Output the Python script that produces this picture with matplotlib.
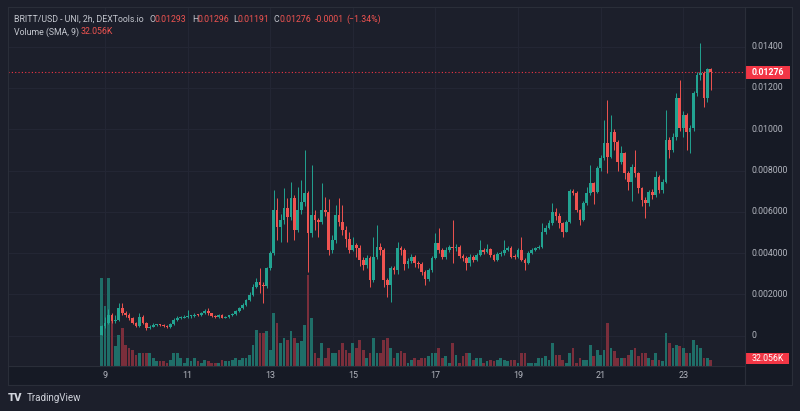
import matplotlib.pyplot as plt
from matplotlib.lines import Line2D
from matplotlib.patches import Rectangle

# 2h candles, prices in thousandths of USD (0.01276 -> 12.76)
first_open = 0.05
closes = [
    0.45, 0.62, 1.0, 0.7, 0.78, 1.33, 1.08, 1.02, 0.84, 0.62,
    0.46, 0.92, 0.6, 0.38, 0.42, 0.5, 0.52, 0.5, 0.48, 0.4,
    0.56, 0.78, 0.86, 0.88, 0.92, 0.94, 0.94, 1.02, 1.0, 1.1,
    1.2, 1.08, 0.95, 0.9, 1.0, 0.88, 0.9, 0.98, 1.06, 1.2,
    1.35, 1.5, 1.75, 1.97, 2.37, 2.62, 2.45, 2.40, 3.26, 3.99,
    6.09, 5.28, 5.6, 6.17, 5.76, 6.65, 5.12, 6.09, 6.49, 6.89,
    4.96, 5.84, 5.6, 5.52, 6.09, 6.0, 4.15, 4.63, 5.84, 5.52,
    5.1, 4.7, 4.15, 4.39, 4.25, 3.67, 3.43, 3.75, 2.7, 3.8,
    4.31, 4.15, 2.70, 2.45, 3.26, 3.2, 4.23, 4.15, 3.45, 3.6,
    3.8, 3.5, 3.45, 3.1, 2.75, 3.18, 3.75, 4.48, 4.15, 3.83,
    4.15, 4.31, 4.23, 4.31, 3.87, 3.75, 3.51, 3.83, 3.67, 3.9,
    4.15, 4.05, 4.2, 3.9, 3.67, 3.95, 3.99, 4.15, 4.27, 3.83,
    3.8, 4.15, 3.67, 3.5, 3.99, 4.15, 4.25, 4.31, 5.04, 5.2,
    5.44, 6.0, 5.8, 5.44, 5.04, 5.52, 7.02, 6.93, 6.09, 5.6,
    6.41, 6.89, 7.38, 6.97, 8.1, 8.59, 9.32, 8.67, 9.88, 9.4,
    8.43, 8.83, 7.86, 7.46, 8.19, 7.86, 7.14, 6.57, 6.41, 6.97,
    6.81, 7.7, 7.06, 7.46, 9.48, 9.0, 9.64, 11.5, 10.05, 10.69,
    9.88, 10.05, 11.74, 12.62, 12.71, 11.5, 12.93, 12.76,
]
highs = [
    0.5, 0.9, 1.3, 1.1, 1.0, 1.6, 1.6, 1.2, 1.1, 0.9,
    0.68, 1.1, 0.98, 0.65, 0.5, 0.6, 0.58, 0.56, 0.55, 0.52,
    0.6, 0.85, 0.95, 0.96, 1.0, 1.25, 1.0, 1.08, 1.06, 1.15,
    1.28, 1.35, 1.12, 1.0, 1.05, 1.04, 0.96, 1.02, 1.1, 1.25,
    1.4, 1.6, 1.8, 2.1, 2.5, 2.78, 3.3, 2.6, 3.35, 4.1,
    7.06, 6.65, 5.9, 7.14, 6.65, 7.46, 6.8, 7.22, 7.54, 8.99,
    7.0, 8.27, 6.1, 5.7, 7.38, 6.73, 6.6, 4.88, 6.33, 6.65,
    6.33, 5.3, 5.0, 4.79, 4.5, 4.4, 3.8, 3.9, 3.85, 4.79,
    5.36, 4.5, 4.25, 2.8, 3.4, 3.4, 4.55, 4.35, 4.25, 3.75,
    3.95, 3.9, 3.6, 3.55, 3.2, 3.3, 3.85, 4.96, 5.2, 4.25,
    4.3, 4.4, 5.6, 4.45, 4.4, 3.95, 3.85, 3.95, 3.9, 4.0,
    4.64, 4.25, 4.45, 4.25, 3.95, 4.05, 4.1, 4.64, 4.35, 4.35,
    3.95, 4.25, 4.8, 3.75, 4.1, 4.25, 4.3, 4.4, 5.44, 5.35,
    5.6, 6.41, 6.2, 5.92, 5.5, 5.6, 7.1, 7.1, 7.0, 6.15,
    6.5, 7.22, 8.27, 7.45, 8.2, 8.75, 10.45, 11.41, 10.69, 10.0,
    9.5, 9.2, 8.9, 8.0, 8.3, 9.0, 7.95, 7.2, 6.7, 7.05,
    7.1, 8.0, 7.8, 7.6, 10.93, 9.6, 9.8, 11.74, 12.38, 10.9,
    10.8, 10.2, 11.85, 12.75, 14.16, 12.8, 12.98, 12.96,
]
lows = [
    0.02, 0.35, 0.55, 0.6, 0.62, 0.72, 1.0, 0.9, 0.78, 0.55,
    0.4, 0.42, 0.55, 0.3, 0.33, 0.4, 0.46, 0.45, 0.44, 0.36,
    0.38, 0.52, 0.72, 0.8, 0.84, 0.88, 0.88, 0.9, 0.94, 0.96,
    1.05, 1.02, 0.9, 0.85, 0.86, 0.84, 0.84, 0.86, 0.94, 1.02,
    1.15, 1.3, 1.45, 1.7, 1.9, 2.3, 2.05, 1.57, 2.3, 3.2,
    3.9, 4.63, 4.55, 5.4, 4.55, 5.6, 4.63, 5.0, 5.9, 6.3,
    3.1, 4.8, 5.1, 4.79, 5.4, 5.8, 3.91, 3.99, 4.5, 5.3,
    4.9, 4.3, 4.0, 4.1, 3.8, 3.4, 3.2, 3.3, 2.37, 2.6,
    3.7, 3.9, 2.37, 1.89, 1.65, 3.0, 3.0, 3.9, 3.2, 3.3,
    3.5, 3.35, 3.3, 2.95, 2.46, 2.65, 3.1, 3.7, 4.0, 3.7,
    3.7, 4.05, 3.51, 4.1, 3.75, 3.6, 3.18, 3.4, 3.55, 3.6,
    3.85, 3.95, 4.0, 3.8, 3.6, 3.6, 3.85, 3.9, 4.1, 3.75,
    3.7, 3.75, 3.6, 3.18, 3.45, 3.95, 4.1, 4.2, 4.25, 4.95,
    5.15, 5.35, 5.6, 5.2, 4.8, 5.0, 5.45, 6.8, 6.0, 5.36,
    5.55, 6.35, 6.8, 6.4, 6.9, 8.0, 8.5, 7.86, 8.6, 9.0,
    8.0, 8.3, 7.6, 7.06, 6.5, 7.7, 6.9, 6.3, 5.68, 6.3,
    6.6, 6.7, 6.9, 6.9, 7.4, 8.6, 8.9, 9.5, 9.9, 9.6,
    9.0, 8.83, 9.9, 11.6, 12.4, 11.1, 11.3, 11.91,
]
volumes_k = [
    387, 260, 387, 211, 84, 132, 167, 88, 75, 66,
    44, 57, 53, 53, 57, 35, 18, 18, 18, 13,
    22, 57, 57, 35, 13, 31, 18, 31, 18, 13,
    26, 18, 13, 13, 13, 22, 18, 18, 22, 31,
    22, 31, 31, 44, 88, 154, 141, 145, 150, 66,
    233, 189, 97, 123, 110, 150, 123, 101, 106, 176,
    396, 211, 57, 35, 97, 31, 75, 57, 53, 70,
    101, 66, 53, 97, 79, 110, 66, 35, 53, 119,
    57, 57, 110, 119, 75, 35, 53, 62, 53, 13,
    22, 35, 22, 35, 35, 40, 53, 53, 79, 31,
    40, 13, 97, 48, 13, 40, 53, 53, 22, 35,
    35, 13, 18, 22, 18, 22, 35, 22, 18, 22,
    22, 13, 53, 53, 13, 13, 9, 35, 35, 40,
    22, 97, 44, 44, 22, 13, 57, 79, 13, 31,
    26, 26, 92, 40, 66, 44, 66, 185, 75, 62,
    35, 35, 35, 48, 66, 79, 40, 57, 57, 35,
    22, 53, 22, 18, 145, 97, 75, 88, 84, 79,
    53, 53, 110, 88, 75, 35, 31, 22,
]
day_ticks = [9, 11, 13, 15, 17, 19, 21, 23]
price_ticks = [0, 2, 4, 6, 8, 10, 12, 14]
price_labels = ['0', '0.002000', '0.004000', '0.006000', '0.008000',
                '0.01000', '0.01200', '0.01400']
last_price_label = '0.01276'
volume_sma_label = '32.056K'

W, H = 800, 411
PANE = '#161a25'
OUTER = '#1c1f2b'
GRID = '#232634'
BORDER = '#2a2e39'
TEXT = '#b2b5be'
UP = '#22a391'
DOWN = '#ef5350'
TAG = '#f23645'

plt.rcParams['font.family'] = ['Roboto', 'DejaVu Sans']

fig = plt.figure(figsize=(W / 100, H / 100), dpi=100, facecolor=OUTER)


def fx(px):
    return px / W


def fy(py):
    return 1 - py / H


def ypix(p):
    return 335.7 - p * 20.65


rect = [fx(8), fy(365.5), fx(745) - fx(8), fy(7) - fy(365.5)]
xlim = (6.651, 24.496)
ylim = (-1.443, 15.92)

# background + grid
gax = fig.add_axes(rect, facecolor=PANE)
gax.set_xlim(xlim)
gax.set_ylim(ylim)
for d in day_ticks:
    gax.axvline(d, color=GRID, lw=0.8)
for p in price_ticks:
    gax.axhline(p, color=GRID, lw=0.8)
gax.axis('off')

# candle times: first bar at 22:00 on the 8th, 2h spacing
opens = [first_open] + closes[:-1]
t = [8 + 22 / 24 + i / 12 for i in range(len(closes))]
colors = [UP if c >= o else DOWN for o, c in zip(opens, closes)]
vcolors = ['#1f6e68' if c == UP else '#7a2e3b' for c in colors]

vax = fig.add_axes(rect, facecolor='none')
vax.bar(t, volumes_k, width=0.066, color=vcolors, linewidth=0)
vax.set_xlim(xlim)
vax.set_ylim(0, 1577)
vax.axis('off')

ax = fig.add_axes(rect, facecolor='none')
ax.vlines(t, lows, highs, colors=colors, lw=0.7)
bottoms = [min(o, c) for o, c in zip(opens, closes)]
heights = [max(abs(c - o), 0.05) for o, c in zip(opens, closes)]
ax.bar(t, heights, bottom=bottoms, width=0.066, color=colors, linewidth=0)
ax.axhline(closes[-1], color=TAG, lw=0.8, ls=(0, (1, 2)))
ax.set_xlim(xlim)
ax.set_ylim(ylim)
ax.axis('off')

# frame and separators
for (x0, y0, x1, y1) in [(8, 7, 792, 7), (8, 385, 792, 385), (8, 7, 8, 385),
                         (792, 7, 792, 385), (745, 7, 745, 385), (8, 365.5, 745, 365.5)]:
    fig.add_artist(Line2D([fx(x0), fx(x1)], [fy(y0), fy(y1)], color=BORDER, lw=0.8))
fig.add_artist(Rectangle((fx(8), fy(385)), fx(784) - fx(0), fy(366) - fy(385),
                         facecolor=PANE, edgecolor='none', zorder=-1))
fig.add_artist(Rectangle((fx(745.5), fy(365.5)), fx(46), fy(7) - fy(365.5),
                         facecolor=PANE, edgecolor='none', zorder=-1))

# price scale
for p, lab in zip(price_ticks, price_labels):
    fig.text(fx(752), fy(ypix(p)), lab, color=TEXT, fontsize=6.3, va='center')

# time scale
for d in day_ticks:
    xp = 105 + (d - 9) * 41.3
    fig.text(fx(xp), fy(375.5), str(d), color=TEXT, fontsize=6.5, ha='center', va='center')

# last price tag
yp = ypix(closes[-1])
fig.add_artist(Rectangle((fx(746), fy(yp + 6.5)), fx(44), fy(0) - fy(13),
                         facecolor=TAG, edgecolor='none'))
fig.text(fx(768), fy(yp), last_price_label, color='white', fontsize=6.3,
         fontweight='bold', ha='center', va='center')
# volume sma tag
fig.add_artist(Rectangle((fx(746), fy(364)), fx(43), fy(0) - fy(11.5),
                         facecolor=TAG, edgecolor='none'))
fig.text(fx(767.5), fy(358.3), volume_sma_label, color='white', fontsize=6.3,
         ha='center', va='center')

# legend
LEG = '#c4c7cf'
LFS = 6.35
fig.text(fx(14), fy(19), 'BRITT/USD - UNI, 2h, DEXTools.io', color=LEG, fontsize=LFS, va='center')
for xp, s, col in [(149, 'O', LEG), (154.5, '0.01293', DOWN), (192, 'H', LEG), (197.5, '0.01296', DOWN),
                   (233, 'L', LEG), (237.5, '0.01191', DOWN), (274, 'C', LEG), (279.5, '0.01276', DOWN),
                   (315, '-0.0001', DOWN), (346, '(\u22121.34%)', DOWN)]:
    fig.text(fx(xp), fy(19), s, color=col, fontsize=LFS, va='center')
fig.text(fx(14), fy(32), 'Volume (SMA, 9)', color=LEG, fontsize=LFS, va='center')
fig.text(fx(81), fy(32), volume_sma_label, color=DOWN, fontsize=LFS, va='center')

# footer
fig.text(fx(8), fy(398), 'TV', color='#d1d4dc', fontsize=8, fontweight='heavy', va='center')
fig.text(fx(27), fy(398), 'TradingView', color='#d1d4dc', fontsize=7, va='center')

fig.savefig('out.png', dpi=100, facecolor=OUTER)
